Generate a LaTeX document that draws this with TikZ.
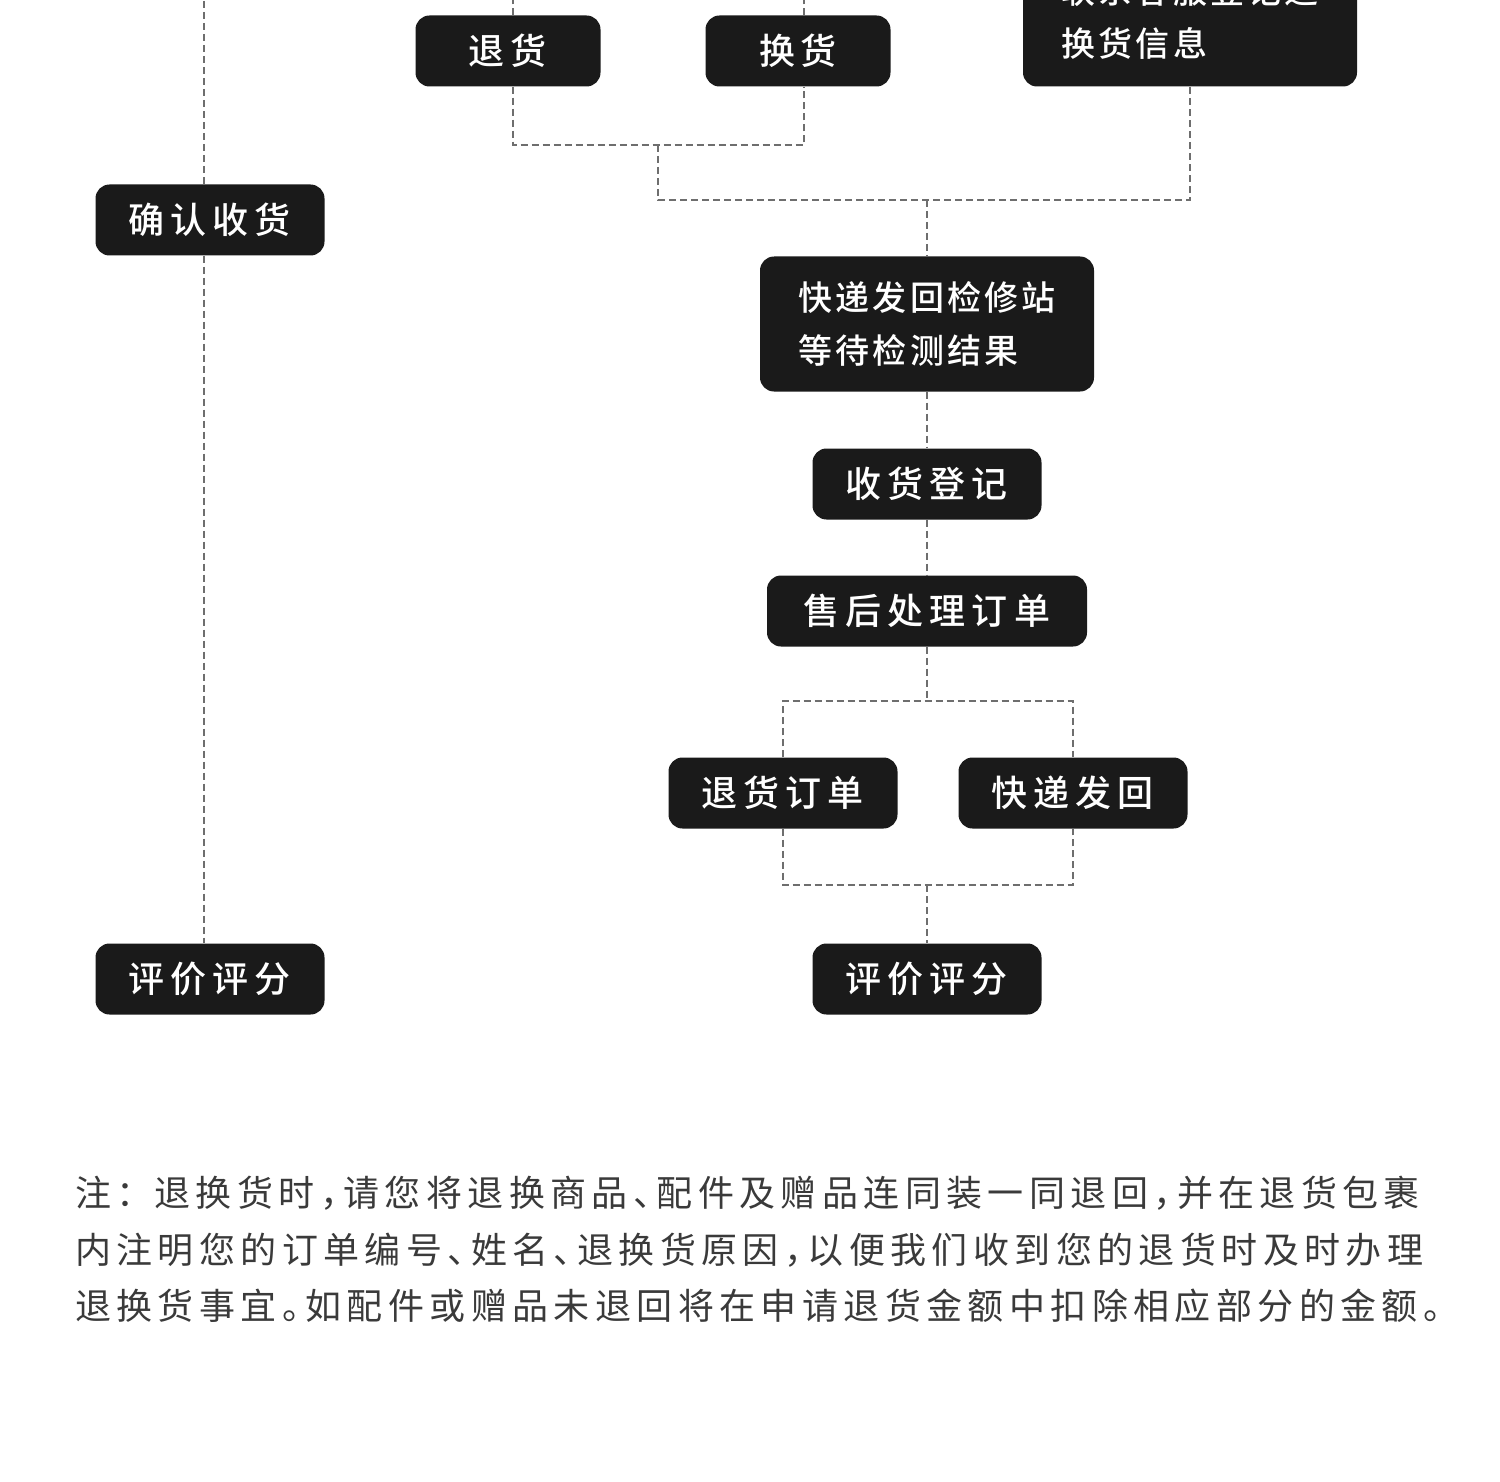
\documentclass[tikz,border=0pt]{standalone}
\usepackage{fontspec}
\usepackage{xcolor}
\newfontfamily\boxfont{Noto Sans CJK SC}[BoldFont={* Medium}, LetterSpace=16.7]
\newfontfamily\boxfontm{Noto Sans CJK SC}[BoldFont={* Medium}, LetterSpace=9]
\newfontfamily\notefont{Noto Sans CJK SC}[LetterSpace=15, RawFeature=+halt]
\definecolor{boxblack}{HTML}{1A1A1A}
\definecolor{linegray}{HTML}{6E6E6E}
\definecolor{notegray}{HTML}{3A3A3A}

\begin{document}
\begin{tikzpicture}[x=1pt, y=-1pt,
    st/.style={rounded corners=14pt, fill=boxblack, text=white, minimum width=229pt, minimum height=71pt, inner sep=0pt, align=center, font=\boxfont\bfseries\fontsize{36pt}{40pt}\selectfont},
    stm/.style={st, align=left, minimum width=334pt, font=\boxfontm\bfseries\fontsize{34pt}{53pt}\selectfont},
    ln/.style={draw=linegray, line width=1.3pt, dash pattern=on 7pt off 4pt},
    note/.style={anchor=west, inner sep=0pt, text=notegray, font=\notefont\fontsize{36pt}{56pt}\selectfont}
]
\useasboundingbox (0,0) rectangle (1500,1482);
\clip (0,0) rectangle (1500,1482);
% left column
\coordinate (ltop) at (204,-10);
\node[st] (ok)    at (210,220)  {确认收货};
\node[st] (rate1) at (210,979)  {评价评分};
\draw[ln] (ltop) -- (ltop |- ok.north);
\draw[ln] (ok.south -| ltop) -- (ltop |- rate1.north);
% top row
\node[st, minimum width=185pt] (ret)  at (508,51) {退货};
\node[st, minimum width=185pt] (exch) at (798,51) {换货};
\node[stm, minimum height=139pt] (svc) at (1190,17) {联系客服登记退\\换货信息};
\draw[ln] ([xshift=5pt]ret.north) -- ++(0,-30);
\draw[ln] ([xshift=6pt]exch.north) -- ++(0,-30);
\coordinate (m1) at (658,145);
\coordinate (m2) at (927,200);
\draw[ln] ([xshift=5pt]ret.south) |- (m1) -| ([xshift=6pt]exch.south);
\draw[ln] (m1) |- (m2) -| (svc.south);
% check and order
\node[stm, minimum height=135pt] (chk) at (927,324) {快递发回检修站\\等待检测结果};
\node[st] (reg)  at (927,484) {收货登记};
\node[st, minimum width=320pt] (proc) at (927,611) {售后处理订单};
\draw[ln] (m2) -- (chk);
\draw[ln] (chk) -- (reg);
\draw[ln] (reg) -- (proc);
% refund or send back
\coordinate (m3) at (927,701);
\coordinate (m4) at (927,885);
\node[st] (retord) at (783,793)  {退货订单};
\node[st] (back)   at (1073,793) {快递发回};
\node[st] (rate2)  at (927,979)  {评价评分};
\draw[ln] (proc) -- (m3);
\draw[ln] (retord.north) |- (m3) -| (back.north);
\draw[ln] (retord.south) |- (m4) -| (back.south);
\draw[ln] (m4) -- (rate2);
% note
\node[note] (n1) at (75,1193) {注：\hspace{20pt}退换货时，请您将退换商品、配件及赠品连同装一同退回，并在退货包裹};
\node[note] (n2) at (75,1250) {内注明您的订单编号、姓名、退换货原因，以便我们收到您的退货时及时办理};
\node[note] (n3) at (75,1306) {退换货事宜。如配件或赠品未退回将在申请退货金额中扣除相应部分的金额。};
\end{tikzpicture}
\end{document}
